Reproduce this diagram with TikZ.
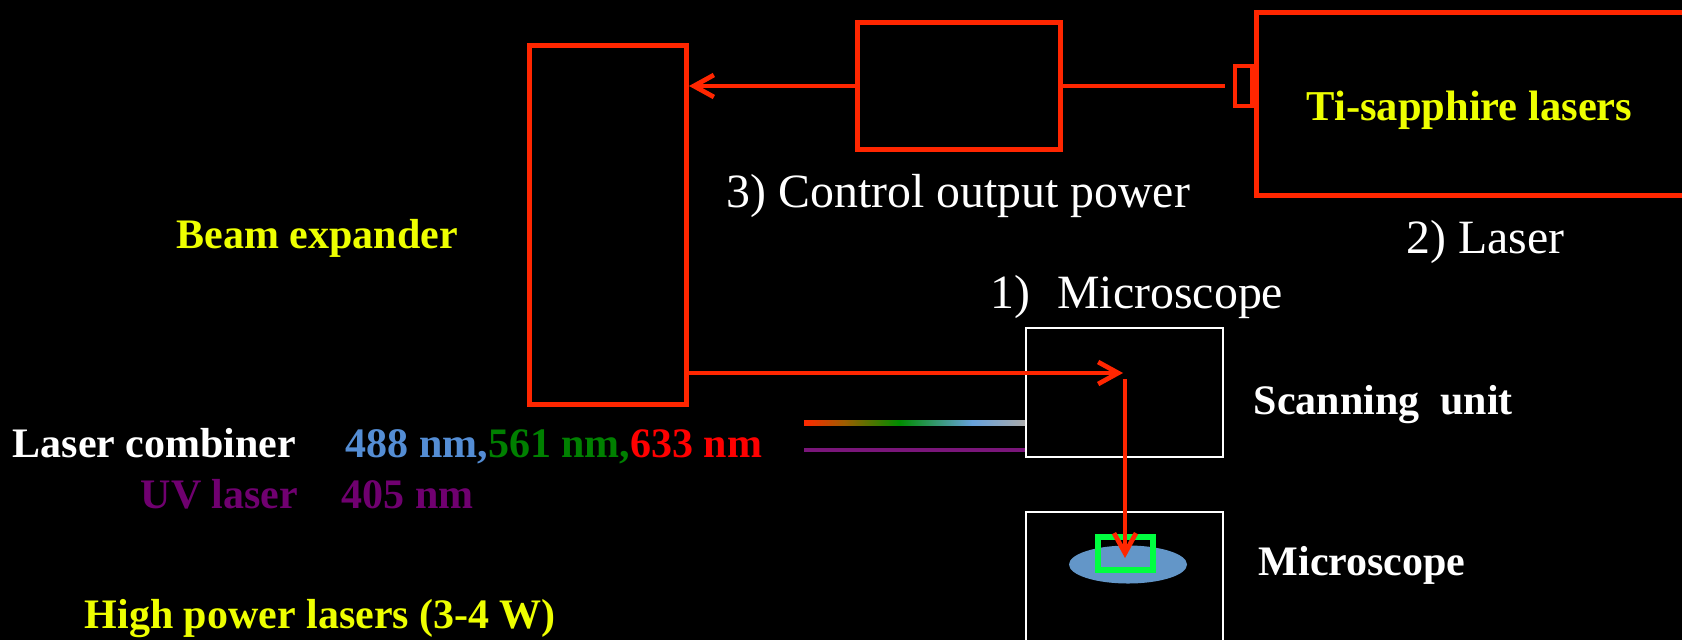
\documentclass[tikz,border=0pt]{standalone}
\usepackage{fontspec}
\setmainfont{Liberation Serif}
\usetikzlibrary{arrows.meta,positioning,shapes.geometric}
\definecolor{beamred}{RGB}{255,38,0}
\definecolor{labelyellow}{RGB}{238,255,0}
\definecolor{lineblue}{RGB}{84,141,212}
\definecolor{linegreen}{RGB}{0,128,0}
\definecolor{linered}{RGB}{255,0,0}
\definecolor{uvpurple}{RGB}{112,0,112}
\definecolor{uvline}{RGB}{122,22,122}
\definecolor{stageblue}{RGB}{99,150,200}
\definecolor{roigreen}{RGB}{0,255,64}
\pgfdeclarehorizontalshading{combinerbeam}{100bp}{rgb(0bp)=(1,0.16,0); rgb(25bp)=(1,0.16,0);
  rgb(34bp)=(0.62,0.36,0); rgb(46.5bp)=(0,0.55,0); rgb(63bp)=(0.40,0.63,0.86);
  rgb(75bp)=(0.67,0.67,0.67); rgb(100bp)=(0.67,0.67,0.67)}
\tikzset{
  redbox/.style  ={rectangle, draw=beamred, line width=0.5mm, inner sep=0pt},
  redport/.style ={rectangle, draw=beamred, line width=0.4mm, inner sep=0pt,
                   minimum width=1.7mm, minimum height=4mm},
  whitebox/.style={rectangle, draw=white, line width=0.2mm, inner sep=0pt},
  stagedisc/.style={ellipse, fill=stageblue, inner sep=0pt,
                   minimum width=11.8mm, minimum height=3.8mm},
  roibox/.style  ={rectangle, draw=roigreen, line width=0.53mm, inner sep=0pt,
                   minimum width=5.5mm, minimum height=3.3mm},
  beam/.style    ={beamred, line width=0.47mm},
  beamdir/.style ={beam, -{Straight Barb[length=2mm, width=2.2mm]}},
  uvbeam/.style  ={uvline, line width=0.47mm},
  boldlbl/.style ={inner sep=0pt, anchor=base west,
                   font=\fontsize{11.95}{14}\selectfont\bfseries},
  plainlbl/.style={inner sep=0pt, anchor=base west, text=white,
                   font=\fontsize{13.6}{16}\selectfont},
}
\begin{document}
\begin{tikzpicture}[x=0.1mm, y=-0.1mm]
  \fill[black] (0,0) rectangle (1682,640);
  \useasboundingbox (0,0) rectangle (1682,640);
  \clip (0,0) rectangle (1682,640);

  \node[redbox, minimum width=15.7mm, minimum height=35.9mm] (expander) at (608,225) {};
  \node[redbox, minimum width=20.3mm, minimum height=12.65mm] (power) at (958.5,86) {};
  \node[redbox, minimum width=47.4mm, minimum height=18.37mm] (tisa) at (1493,104) {};
  \node[redport, anchor=east] (port) at (tisa.west |- power.east) {};
  \node[whitebox, minimum width=19.73mm, minimum height=12.93mm] (scanner) at (1124.7,392.7) {};
  \node[whitebox, minimum width=19.73mm, minimum height=18.77mm] (scope) at (1124.7,606) {};
  \node[stagedisc] (stage) at (1128,564.5) {};
  \node[roibox] (roi) at (1125.5,553.5) {};

  \coordinate (focus) at (1123,373);
  \coordinate (focusdrop) at (1125,379);
  \coordinate (sampletip) at (1125,558);
  \draw[beamdir] (power.west) -- (power.west -| expander.east);
  \draw[beam, shorten >=0.8mm] (power.east) -- (port.west);
  \draw[beamdir] (expander.east |- focus) -- (focus);
  \draw[beamdir] (focusdrop) -- (sampletip);

  \coordinate (combstart) at (804,422.7);
  \coordinate (uvstart) at (804,450);
  \shade[shading=combinerbeam] (804,420.4) rectangle (scanner.west |- 0,425);
  \draw[uvbeam] (uvstart) -- (scanner.west |- uvstart);

  \node[boldlbl, text=labelyellow, font=\fontsize{12.1}{14}\selectfont\bfseries] (tilabel) at (1306,120) {Ti-sapphire lasers};
  \node[boldlbl, text=labelyellow] (expanderlabel) at (176,248) {Beam expander};
  \node[plainlbl] (powerlabel) at (726,207) {3) Control output power};
  \node[plainlbl] (laserlabel) at (1406,253) {2) Laser};
  \node[plainlbl] (scopetitle) at (990,308) {1)\hspace{2.7mm}Microscope};
  \node[boldlbl, text=white] (scannerlabel) at (1253,414) {Scanning\ \ unit};
  \node[boldlbl, text=white] (scopelabel) at (1258,575) {Microscope};
  \node[boldlbl, text=white] (combinerlabel) at (12,457) {Laser combiner};
  \node[boldlbl] (combinerlines) at (345,457)
    {\textcolor{lineblue}{488 nm,}\textcolor{linegreen}{561 nm,}\textcolor{linered}{633 nm}};
  \node[boldlbl, text=uvpurple] (uvlabel) at (140,508) {UV laser};
  \node[boldlbl, text=uvpurple] (uvline) at (341,508) {405 nm};
  \node[boldlbl, text=labelyellow] (powerlasers) at (84,628) {High power lasers (3-4 W)};
\end{tikzpicture}
\end{document}
